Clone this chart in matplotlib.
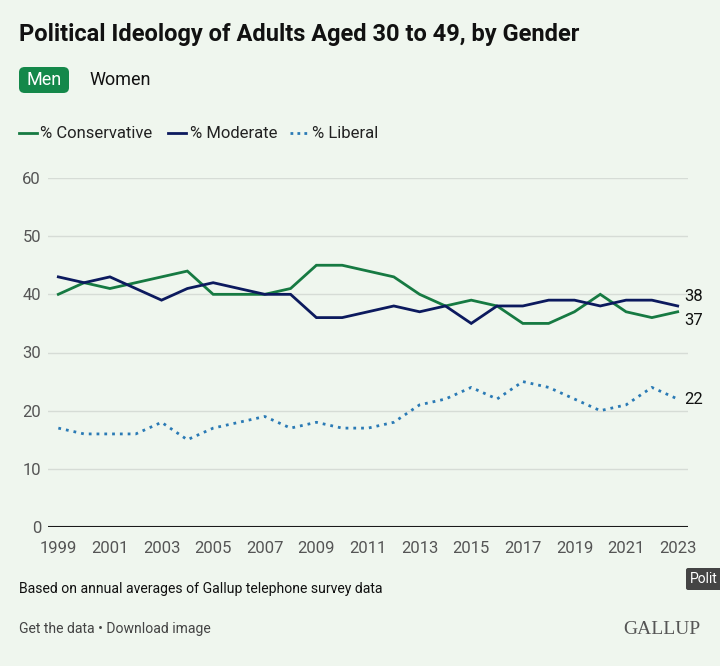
import matplotlib
matplotlib.use('Agg')
from matplotlib import pyplot as plt
from matplotlib.patches import FancyBboxPatch
from matplotlib.lines import Line2D
import numpy as np

plt.rcParams['font.family'] = ['Roboto', 'DejaVu Sans']

years = np.arange(1999, 2024)
conservative = [40, 42, 41, 42, 43, 44, 40, 40, 40, 41, 45, 45, 44, 43, 40, 38, 39, 38, 35, 35, 37, 40, 37, 36, 37]
moderate = [43, 42, 43, 41, 39, 41, 42, 41, 40, 40, 36, 36, 37, 38, 37, 38, 35, 38, 38, 39, 39, 38, 39, 39, 38]
liberal = [17, 16, 16, 16, 18, 15, 17, 18, 19, 17, 18, 17, 17, 18, 21, 22, 24, 22, 25, 24, 22, 20, 21, 24, 22]
yticks = [0, 10, 20, 30, 40, 50, 60]
xticks = list(range(1999, 2024, 2))

bg = '#eff6ee'
green = '#167a42'
navy = '#0c1a5e'
blue = '#2a7ab5'

fig = plt.figure(figsize=(7.2, 6.66), dpi=100, facecolor=bg)
ax = fig.add_axes([48/720, 139/666, 640/720, 349/666], facecolor=bg)

ax.plot(years, conservative, color=green, lw=2, solid_joinstyle='miter')
ax.plot(years, moderate, color=navy, lw=2, solid_joinstyle='miter')
ax.plot(years, liberal, color=blue, lw=2, linestyle=(0, (1, 1.8)))

ax.set_xlim(1998.6, 2023.4)
ax.set_ylim(0, 60)
for s in ax.spines.values():
    s.set_visible(False)
ax.set_yticks(yticks)
ax.set_xticks(xticks)
ax.grid(axis='y', color='#d6dcd6', lw=1)
ax.set_axisbelow(True)
ax.axhline(0, color='#1a1a1a', lw=1.5)
ax.tick_params(axis='both', length=0, labelsize=12, labelcolor='#555555')
ax.tick_params(axis='y', pad=5)
ax.tick_params(axis='x', pad=10)

# end labels, nudged apart where the lines finish close together
end_offsets = [-6, 7, 0]
for series, dy in zip((conservative, moderate, liberal), end_offsets):
    ax.annotate(str(series[-1]), xy=(years[-1], series[-1]), xytext=(5, dy),
                textcoords='offset points', va='center', ha='left', fontsize=12, color='#111111',
                annotation_clip=False)

# title
fig.text(19/720, 1 - 35/666, 'Political Ideology of Adults Aged 30 to 49, by Gender',
         fontsize=17, fontweight='bold', va='center', ha='left', color='#111111')

# toggle buttons
box = FancyBboxPatch((19/720, 1 - 93/666), 50/720, 26/666,
                     boxstyle='round,pad=0,rounding_size=0.008', transform=fig.transFigure,
                     facecolor='#14884a', edgecolor='none')
fig.patches.append(box)
fig.text(44/720, 1 - 80/666, 'Men', fontsize=13, color='white', ha='center', va='center')
fig.text(89/720, 1 - 80/666, 'Women', fontsize=13, color='#111111', ha='left', va='center')

# legend
ly = 1 - 133/666
items = [(19, 37, 40, '% Conservative', green, '-'),
         (168, 186, 190, '% Moderate', navy, '-'),
         (290, 309, 312, '% Liberal', blue, (0, (1, 1.5)))]
for x0, x1, xt, label, col, ls in items:
    fig.add_artist(Line2D([x0/720, x1/720], [ly, ly], color=col, lw=2, linestyle=ls,
                          transform=fig.transFigure))
    fig.text(xt/720, ly, label, fontsize=12, color='#222222', ha='left', va='center')

# footer
fig.text(19/720, 1 - 589/666, 'Based on annual averages of Gallup telephone survey data',
         fontsize=10.1, color='#111111', ha='left', va='center')
fig.text(19/720, 1 - 629/666, 'Get the data \u2022 Download image',
         fontsize=10.1, color='#444444', ha='left', va='center')
fig.text(700/720, 1 - 629/666, 'GALLUP', fontsize=14, color='#555555', ha='right', va='center',
         family=['Liberation Serif', 'DejaVu Serif'])

# tooltip fragment at right edge
tip = FancyBboxPatch((686/720, 1 - 590/666), 40/720, 22/666,
                     boxstyle='round,pad=0,rounding_size=0.003', transform=fig.transFigure,
                     facecolor='#444444', edgecolor='none')
fig.patches.append(tip)
fig.text(690/720, 1 - 579/666, 'Polit', fontsize=10, color='white', ha='left', va='center')

fig.savefig('out.png', dpi=100, facecolor=bg)
